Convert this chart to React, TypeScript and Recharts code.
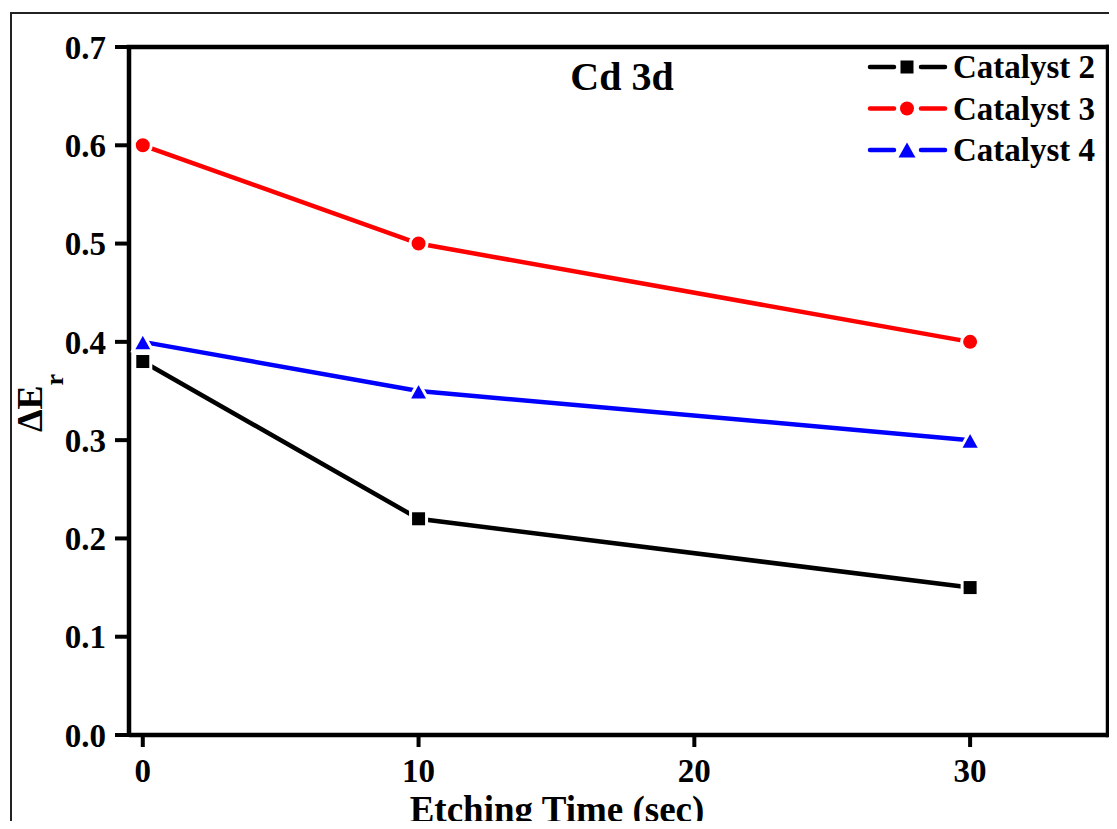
import React from 'react';
import { LineChart, Line, XAxis, YAxis, ReferenceLine, Customized } from 'recharts';

const etchingTimes = [0, 10, 30];
const catalyst2 = [0.38, 0.22, 0.15];
const catalyst3 = [0.6, 0.5, 0.4];
const catalyst4 = [0.4, 0.35, 0.3];
const seriesNames = ['Catalyst 2', 'Catalyst 3', 'Catalyst 4'];
const seriesColors = ['#000000', '#ff0000', '#0000ff'];
const seriesKeys = ['c2', 'c3', 'c4'];
const xTicks = [0, 10, 20, 30];
const yTicks = [0, 0.1, 0.2, 0.3, 0.4, 0.5, 0.6, 0.7];
const titleText = 'Cd 3d';
const xLabelText = 'Etching Time (sec)';

const data = etchingTimes.map((t, i) => ({ t, c2: catalyst2[i], c3: catalyst3[i], c4: catalyst4[i] }));

const FONT = '"Liberation Serif", "Times New Roman", serif';

type Kind = 'square' | 'circle' | 'triangle';
const kinds: Kind[] = ['square', 'circle', 'triangle'];

function Marker({ cx, cy, kind, color, halo }: { cx: number; cy: number; kind: Kind; color: string; halo: boolean }) {
  const stroke = halo ? '#ffffff' : 'none';
  const sw = halo ? 3 : 0;
  const pad = halo ? 1.5 : 0;
  if (kind === 'square') {
    const s = 13 + 2 * pad;
    return <rect x={cx - s / 2} y={cy - s / 2} width={s} height={s} fill={color} stroke={stroke} strokeWidth={sw} />;
  }
  if (kind === 'circle') {
    return <circle cx={cx} cy={cy} r={7 + pad} fill={color} stroke={stroke} strokeWidth={sw} />;
  }
  const w = 17 + 2 * pad;
  const h = 15 + 2 * pad;
  const pts = `${cx - w / 2},${cy + h / 2} ${cx + w / 2},${cy + h / 2} ${cx},${cy - h / 2}`;
  return <polygon points={pts} fill={color} stroke={stroke} strokeWidth={sw} strokeLinejoin="miter" />;
}

const makeDot = (idx: number) => (props: any) => {
  const { cx, cy, key } = props;
  if (cx == null || cy == null) return <g key={key} />;
  return <Marker key={key} cx={cx} cy={cy} kind={kinds[idx]} color={seriesColors[idx]} halo={true} />;
};

const LegendBlock = () => (
  <g>
    {seriesNames.map((name, i) => {
      const y = 67 + i * 41.5;
      return (
        <g key={name}>
          <line x1={870} y1={y} x2={894} y2={y} stroke={seriesColors[i]} strokeWidth={4.5} strokeLinecap="round" />
          <Marker cx={907} cy={y} kind={kinds[i]} color={seriesColors[i]} halo={false} />
          <line x1={921} y1={y} x2={945} y2={y} stroke={seriesColors[i]} strokeWidth={4.5} strokeLinecap="round" />
          <text x={953} y={y + 11} fontSize={33} fill="#000" fontFamily={FONT} fontWeight="bold">
            {name}
          </text>
        </g>
      );
    })}
  </g>
);

const Texts = () => (
  <g>
    <text x={622} y={90} textAnchor="middle" fontSize={40} fill="#000" fontFamily={FONT} fontWeight="bold">
      {titleText}
    </text>
    <text x={557} y={822} textAnchor="middle" fontSize={37} fill="#000" fontFamily={FONT} fontWeight="bold">
      {xLabelText}
    </text>
    <g transform="translate(42, 403) rotate(-90)">
      <text x={0} y={0} textAnchor="middle" fontSize={36} fill="#000" fontFamily={FONT} fontWeight="bold">
        ΔE
        <tspan fontSize={26} dy={21}>r</tspan>
      </text>
    </g>
    <LegendBlock />
  </g>
);

export default function App() {
  return (
    <div style={{ position: 'relative', width: 1117, height: 829, margin: -8, overflow: 'hidden', background: '#fff' }}>
      <div
        style={{
          position: 'absolute',
          left: 10,
          top: 12,
          width: 1130,
          height: 840,
          border: '2px solid #222',
          boxSizing: 'border-box',
        }}
      />
      <div style={{ position: 'absolute', left: 0, top: 0 }}>
        <LineChart width={1117} height={829} data={data} margin={{ top: 47, right: 9, bottom: 0, left: 0 }}>
          <XAxis
            type="number"
            dataKey="t"
            domain={[-0.5, 35]}
            ticks={xTicks}
            allowDataOverflow
            height={94}
            tickSize={12}
            tickMargin={12}
            axisLine={{ stroke: '#000', strokeWidth: 4.5 }}
            tickLine={{ stroke: '#000', strokeWidth: 4 }}
            tick={{ fill: '#000', fontSize: 33, fontFamily: FONT, fontWeight: 'bold' }}
          />
          <YAxis
            type="number"
            domain={[0, 0.7]}
            ticks={yTicks}
            allowDataOverflow
            width={129}
            tickSize={14}
            tickMargin={9}
            tickFormatter={(v: number) => v.toFixed(1)}
            axisLine={{ stroke: '#000', strokeWidth: 4.5 }}
            tickLine={{ stroke: '#000', strokeWidth: 4 }}
            tick={{ fill: '#000', fontSize: 33, fontFamily: FONT, fontWeight: 'bold' }}
          />
          <ReferenceLine y={0.7} stroke="#000" strokeWidth={4.5} strokeLinecap="square" />
          <ReferenceLine x={35} stroke="#000" strokeWidth={4.5} strokeLinecap="square" />
          {seriesKeys.map((k, i) => (
            <Line
              key={k}
              type="linear"
              dataKey={k}
              name={seriesNames[i]}
              stroke={seriesColors[i]}
              strokeWidth={4.5}
              dot={makeDot(i)}
              activeDot={false}
              isAnimationActive={false}
            />
          ))}
          <Customized component={<Texts />} />
        </LineChart>
      </div>
    </div>
  );
}
